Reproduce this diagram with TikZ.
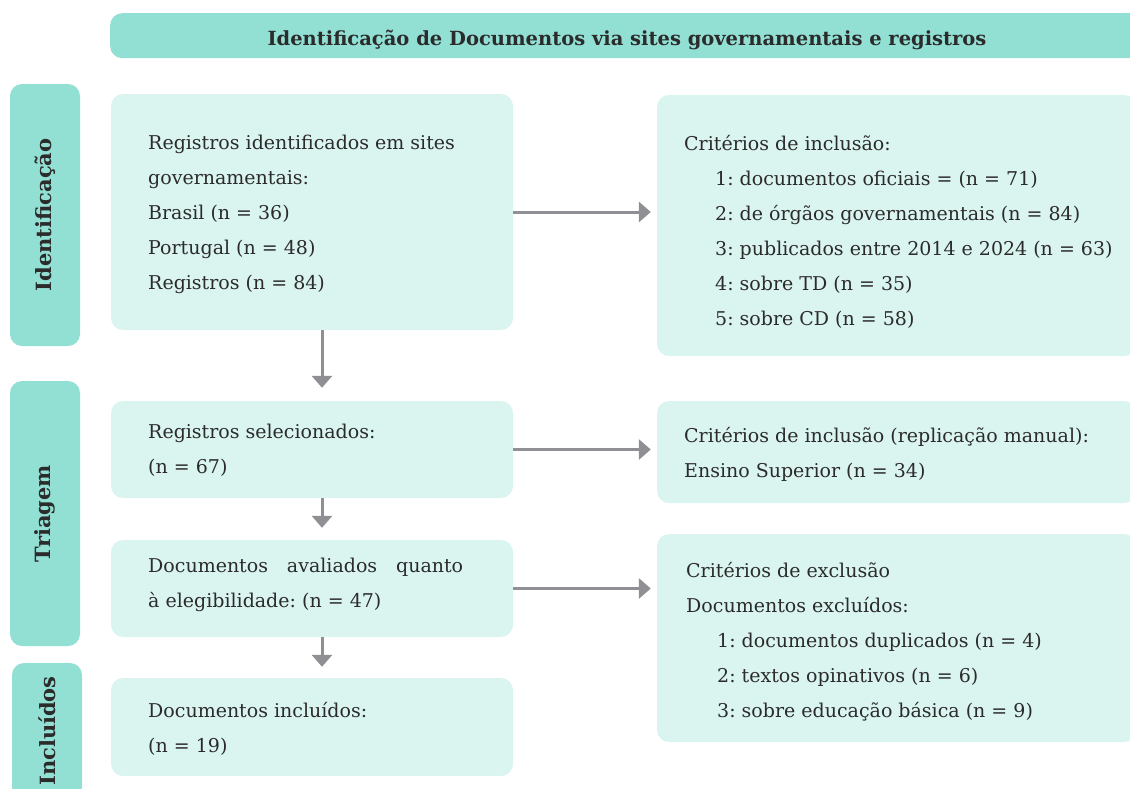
\documentclass[tikz,border=0pt]{standalone}
\usepackage{fontspec}
\setmainfont{DejaVu Serif}
\usetikzlibrary{arrows.meta,calc}
\definecolor{phasecol}{HTML}{92E0D4}
\definecolor{boxcol}{HTML}{DAF5F0}
\definecolor{arrcol}{HTML}{8F8F94}
\definecolor{txtcol}{HTML}{2B2B2B}
\tikzset{
  phase/.style={fill=phasecol, rounded corners=12pt, inner sep=0pt, text=txtcol, font=\fontsize{21}{24}\selectfont\bfseries},
  stepbox/.style={fill=boxcol, rounded corners=12pt, inner sep=0pt, minimum width=402pt},
  sidebox/.style={fill=boxcol, rounded corners=12pt, inner sep=0pt, minimum width=479pt},
  body/.style={inner sep=0pt, align=left, text=txtcol, font=\fontsize{19}{35}\selectfont\frenchspacing},
  arr/.style={draw=arrcol, line width=3pt, -{Triangle[width=20pt,length=12pt]}},
}
\newcommand{\ind}{\hspace*{31pt}}
\begin{document}
\frenchspacing
\begin{tikzpicture}[x=1pt,y=-1pt]
\useasboundingbox (0,0) rectangle (1130,788);
\clip (0,0) rectangle (1130,788);

% title bar
\node[phase, minimum width=1040pt, minimum height=45pt, anchor=north west] (title) at (110,13) {};
\node[inner sep=0pt, text=txtcol, font=\fontsize{19.5}{22}\selectfont\bfseries] (titletext) at (627,40) {Identificação de Documentos via sites governamentais e registros};

% phase labels
\node[phase, rotate=90, minimum width=262pt, minimum height=70pt] (p1) at (45,215) {Identificação};
\node[phase, rotate=90, minimum width=265pt, minimum height=70pt] (p2) at (45,513.5) {Triagem};
\node[phase, rotate=90, minimum width=136pt, minimum height=70pt] (p3) at (47,731) {Incluídos};

% left boxes
\node[stepbox, minimum height=236pt] (b1) at (312,212) {};
\node[stepbox, minimum height=97pt] (b2) at (312,449.5) {};
\node[stepbox, minimum height=97pt] (b3) at (312,588.5) {};
\node[stepbox, minimum height=98pt] (b4) at (312,727) {};

% right boxes
\node[sidebox, minimum height=261pt] (r1) at (896.5,225.5) {};
\node[sidebox, minimum height=102pt] (r2) at (896.5,452) {};
\node[sidebox, minimum height=208pt] (r3) at (896.5,638) {};

% texts
\node[body, anchor=west] (t1) at (148,214) {Registros identificados em sites\\governamentais:\\Brasil (n = 36)\\Portugal (n = 48)\\Registros (n = 84)};
\node[body, anchor=west] (t2) at (148,450) {Registros selecionados:\\(n = 67)};
\node[body, anchor=west] (t3) at (148,584.5) {\makebox[315pt][s]{Documentos avaliados quanto}\\à elegibilidade: (n = 47)};
\node[body, anchor=west] (t4) at (148,728.5) {Documentos incluídos:\\(n = 19)};

\node[body, anchor=west] (u1) at (684,231.5) {Critérios de inclusão:\\\ind 1: documentos oficiais = (n = 71)\\\ind 2: de órgãos governamentais (n = 84)\\\ind 3: publicados entre 2014 e 2024 (n = 63)\\\ind 4: sobre TD (n = 35)\\\ind 5: sobre CD (n = 58)};
\node[body, anchor=west] (u2) at (684,454) {Critérios de inclusão (replicação manual):\\Ensino Superior (n = 34)};
\node[body, anchor=west] (u3) at (686,641.5) {Critérios de exclusão\\Documentos excluídos:\\\ind 1: documentos duplicados (n = 4)\\\ind 2: textos opinativos (n = 6)\\\ind 3: sobre educação básica (n = 9)};

% arrows
\draw[arr, shorten >=6pt] (b1.east) -- (b1.east -| r1.west);
\draw[arr, shorten >=6pt] (b2.east) -- (b2.east -| r2.west);
\draw[arr, shorten >=6pt] (b3.east) -- (b3.east -| r3.west);
\draw[arr, shorten >=13pt] ([xshift=10pt]b1.south) -- ([xshift=10pt]b1.south |- b2.north);
\draw[arr, shorten >=12pt] ([xshift=10pt]b2.south) -- ([xshift=10pt]b2.south |- b3.north);
\draw[arr, shorten >=11pt] ([xshift=10pt]b3.south) -- ([xshift=10pt]b3.south |- b4.north);
\end{tikzpicture}
\end{document}
